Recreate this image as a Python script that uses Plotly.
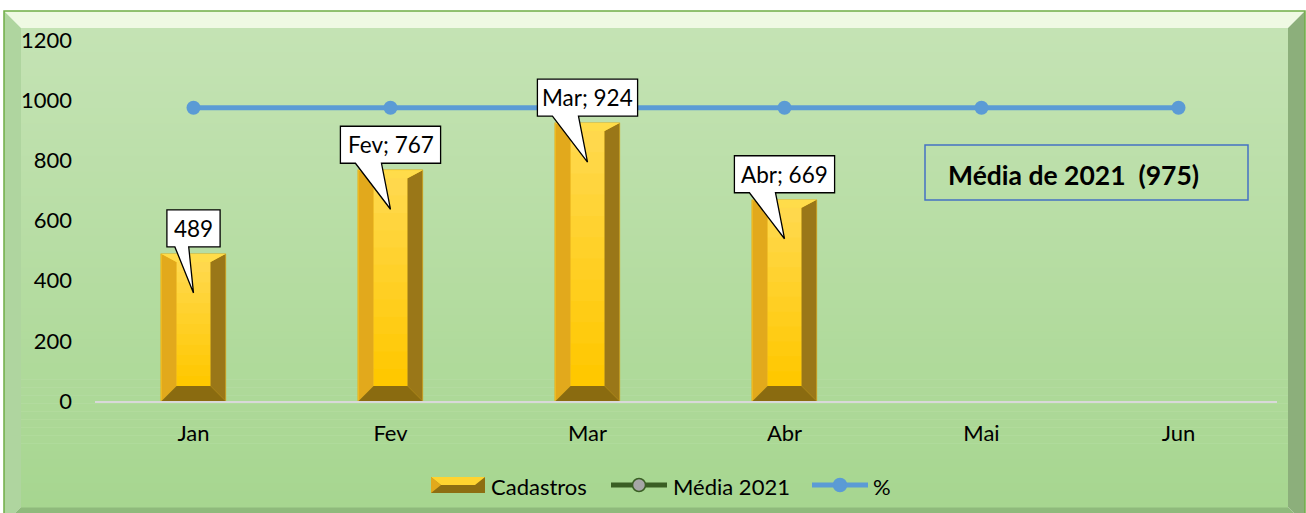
import plotly.graph_objects as go

# ---- data ----
months = ["Jan", "Fev", "Mar", "Abr", "Mai", "Jun"]
cadastros = [489, 767, 924, 669]
show_month_in_label = [False, True, True, True]
media_2021 = [None, None, None, None, None, None]
percent_line = [975, 975, 975, 975, 975, 975]
avg_text = "Média de 2021\u00a0\u00a0(975)"
y_ticks = [0, 200, 400, 600, 800, 1000, 1200]
series_names = ["Cadastros", "Média 2021", "%"]

# ---- canvas geometry ----
W, H = 1306, 513
ML, MR, MT, MB = 95, 29, 40, 112
PW, PH = W - ML - MR, H - MT - MB
FONT = "Lato"

BAR_FACE = "#ffd02a"
MEDIA_LINE, MEDIA_MARK = "#3a5e24", "#a6a6a6"
PCT_COLOR = "#5b9bd5"


def px(x):
    return (x - ML) / PW


def py(y):
    return (H - MB - y) / PH


def lerp(c1, c2, t):
    a = [int(c1[i:i + 2], 16) for i in (1, 3, 5)]
    b = [int(c2[i:i + 2], 16) for i in (1, 3, 5)]
    return "#" + "".join(f"{round(a[k] + (b[k] - a[k]) * t):02x}" for k in range(3))


def poly(points, color, data=False, layer="below", line=None):
    d = "M" + " L".join(f"{x},{y}" for x, y in points) + " Z"
    return dict(type="path", path=d,
                xref="x" if data else "paper", yref="y" if data else "paper",
                fillcolor=color, layer=layer,
                line=dict(width=0) if line is None else line)


shapes = []

# ---- beveled frame ----
x0, x1, y0, y1 = 4, 1305, 11, 524
bev = 17
shapes.append(poly([(px(x0), py(y0)), (px(x1), py(y0)), (px(x1 - bev), py(y0 + bev)),
                    (px(x0 + bev), py(y0 + bev))], "#eff9e3"))
shapes.append(poly([(px(x0), py(y0)), (px(x0 + bev), py(y0 + bev)), (px(x0 + bev), py(y1 - bev)),
                    (px(x0), py(y1))], "#afd59f"))
shapes.append(poly([(px(x1), py(y0)), (px(x1), py(y1)), (px(x1 - bev), py(y1 - bev)),
                    (px(x1 - bev), py(y0 + bev))], "#8caf7b"))
shapes.append(poly([(px(x0), py(y1)), (px(x0 + bev), py(y1 - bev)), (px(x1 - bev), py(y1 - bev)),
                    (px(x1), py(y1))], "#8fba7c"))
n_strips = 60
top_y, bot_y = y0 + bev, y1 - bev
for i in range(n_strips):
    ya = top_y + (bot_y - top_y) * i / n_strips
    yb = top_y + (bot_y - top_y) * (i + 1) / n_strips + 0.6
    shapes.append(dict(type="rect", xref="paper", yref="paper", layer="below",
                       x0=px(x0 + bev), x1=px(x1 - bev), y0=py(ya), y1=py(yb),
                       fillcolor=lerp("#c4e3b4", "#a7d690", i / (n_strips - 1)),
                       line=dict(width=0)))
shapes.append(dict(type="rect", xref="paper", yref="paper", layer="below",
                   x0=px(x0), x1=px(x1), y0=py(y0), y1=py(y1),
                   line=dict(color="#70ad47", width=1.5)))

# ---- bar bevels (data coordinates) ----
half_w = 0.1625
dx = 15 / (PW / 6)
unit = 1200 / PH          # data units per pixel
dy_b = 15 * unit
dy_t = 8 * unit
face_steps = 12
bar_shapes = []
for i, v in enumerate(cadastros):
    l, r = i - half_w, i + half_w
    for k in range(face_steps):
        ya = dy_b + (v - dy_t - dy_b) * k / face_steps
        yb = dy_b + (v - dy_t - dy_b) * (k + 1) / face_steps
        bar_shapes.append(dict(type="rect", xref="x", yref="y", layer="above",
                               x0=l + dx, x1=r - dx, y0=ya, y1=yb + unit * 0.5,
                               fillcolor=lerp("#ffc800", "#ffd84c", k / (face_steps - 1)),
                               line=dict(width=0)))
    bar_shapes.append(poly([(l, 0), (l, v), (l + dx, v - dy_t), (l + dx, dy_b)], "#e2a91c", True, "above"))
    bar_shapes.append(poly([(r, 0), (r, v), (r - dx, v - dy_t), (r - dx, dy_b)], "#9a7718", True, "above"))
    bar_shapes.append(poly([(l, 0), (r, 0), (r - dx, dy_b), (l + dx, dy_b)], "#8a6b10", True, "above"))
    bar_shapes.append(poly([(l, v), (r, v), (r - dx, v - dy_t), (l + dx, v - dy_t)], "#ffdc4a", True, "above"))

# ---- callouts ----
annotations = []
callout_shapes = []
for i, v in enumerate(cadastros):
    text = f"{months[i]}; {v}" if show_month_in_label[i] else f"{v}"
    wpx = 25 + 9.4 * len(text)
    bw = wpx / (PW / 6)
    l, r = i - bw / 2, i + bw / 2
    ybot = v + 7 * unit
    ytop = ybot + 37 * unit
    b1 = l + 0.15 * bw
    b2 = l + 0.41 * bw
    tip = (i, v - 39 * unit)
    pts = [(l, ytop), (r, ytop), (r, ybot), (b2, ybot), tip, (b1, ybot), (l, ybot)]
    callout_shapes.append(poly(pts, "white", True, "above",
                               line=dict(color="black", width=1.3)))
    annotations.append(dict(x=i, y=(ybot + ytop) / 2, xref="x", yref="y", text=text,
                            showarrow=False, font=dict(family=FONT, size=22.5, color="black")))

# ---- average box ----
callout_shapes.append(dict(type="rect", xref="paper", yref="paper", layer="above",
                           x0=px(925), x1=px(1248), y0=py(145), y1=py(200),
                           line=dict(color="#4472c4", width=1.5)))
annotations.append(dict(x=px(946), y=py(175), xref="paper", yref="paper",
                        xanchor="left", yanchor="middle", showarrow=False,
                        text=f"<b>{avg_text}</b>",
                        font=dict(family=FONT, size=26.5, color="black")))

# ---- legend (drawn as shapes + text below the plot) ----
leg_y = 485
leg_shapes = []
# Cadastros swatch: small beveled bar
sx0, sx1, sy0, sy1 = 431, 485, 477, 493
leg_shapes.append(dict(type="rect", xref="paper", yref="paper", layer="above",
                       x0=px(sx0), x1=px(sx1), y0=py(sy1), y1=py(sy0),
                       fillcolor="#8d6e12", line=dict(width=0)))
leg_shapes.append(poly([(px(sx0), py(sy0)), (px(sx0 + 10), py(leg_y)), (px(sx0), py(sy1))],
                       "#e2a91c", layer="above"))
leg_shapes.append(poly([(px(sx0), py(sy0)), (px(sx1), py(sy0)), (px(sx1 - 10), py(leg_y)),
                        (px(sx0 + 10), py(leg_y))], "#ffd430", layer="above"))
# line + marker swatches
for (lx0, lx1), lc, mc in [((611, 667), MEDIA_LINE, MEDIA_MARK), ((812, 868), PCT_COLOR, PCT_COLOR)]:
    leg_shapes.append(dict(type="line", xref="paper", yref="paper", layer="above",
                           x0=px(lx0), x1=px(lx1), y0=py(leg_y), y1=py(leg_y),
                           line=dict(color=lc, width=5)))
    cx = (lx0 + lx1) / 2
    leg_shapes.append(dict(type="circle", xref="paper", yref="paper", layer="above",
                           x0=px(cx - 6.5), x1=px(cx + 6.5), y0=py(leg_y + 6.5), y1=py(leg_y - 6.5),
                           fillcolor=mc, line=dict(color=lc, width=1.5)))
for name, tx in zip(series_names, [489, 671, 871]):
    annotations.append(dict(x=px(tx), y=py(leg_y + 1), xref="paper", yref="paper",
                            xanchor="left", yanchor="middle", showarrow=False, text=name,
                            font=dict(family=FONT, size=22, color="black")))

x_idx = list(range(len(months)))

fig = go.Figure()
fig.add_trace(go.Bar(
    x=x_idx[:len(cadastros)], y=cadastros, name=series_names[0], width=2 * half_w,
    marker=dict(color=BAR_FACE, line=dict(color="#d9a514", width=0.5)),
))
fig.add_trace(go.Scatter(
    x=x_idx, y=media_2021, name=series_names[1], mode="lines+markers",
    line=dict(color=MEDIA_LINE, width=5),
    marker=dict(color=MEDIA_MARK, size=13, line=dict(color=MEDIA_LINE, width=1.5)),
))
fig.add_trace(go.Scatter(
    x=x_idx, y=percent_line, name=series_names[2], mode="lines+markers",
    line=dict(color=PCT_COLOR, width=5),
    marker=dict(color=PCT_COLOR, size=14),
))

fig.update_layout(
    width=W, height=H,
    margin=dict(l=ML, r=MR, t=MT, b=MB, pad=0),
    paper_bgcolor="white",
    plot_bgcolor="rgba(0,0,0,0)",
    font=dict(family=FONT, size=22, color="black"),
    shapes=shapes + bar_shapes + callout_shapes + leg_shapes,
    annotations=annotations,
    showlegend=False,
    xaxis=dict(range=[-0.5, 5.5], tickvals=x_idx, ticktext=months, showgrid=False,
               zeroline=False, showline=True, linecolor="#d9d9d9", linewidth=2,
               ticks="", ticklabelstandoff=12, fixedrange=True, automargin=False),
    yaxis=dict(range=[0, 1200], tickvals=y_ticks, showgrid=False, zeroline=False,
               showline=False, ticks="", ticklabelstandoff=22, fixedrange=True,
               automargin=False),
    bargap=0,
)

fig.write_html("out.html")
